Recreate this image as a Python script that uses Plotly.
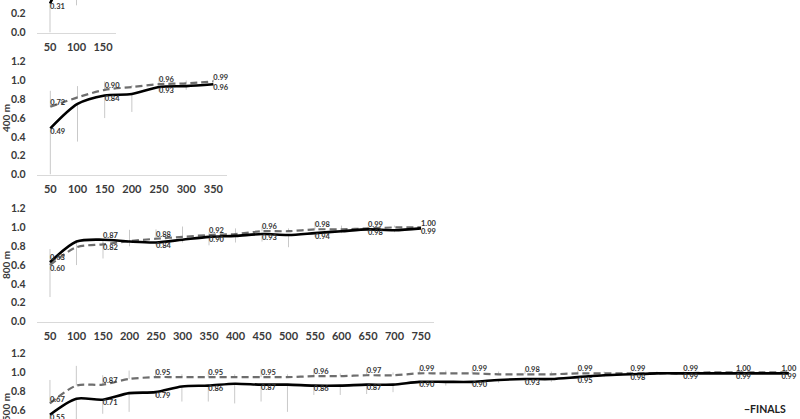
import plotly.graph_objects as go

# ---------------- data ----------------
dist_200 = [50, 100, 150]
finals_200 = [0.31, 0.78, 0.93]
heats_200 = [0.52, 0.86, 0.97]
finals_200_err = [0.31, 0.49, 0.10]
heats_200_err = [0.20, 0.10, 0.03]

dist_400 = [50, 100, 150, 200, 250, 300, 350]
finals_400 = [0.49, 0.75, 0.84, 0.855, 0.93, 0.94, 0.96]
heats_400 = [0.72, 0.82, 0.90, 0.93, 0.96, 0.97, 0.99]
finals_400_err = [0.49, 0.40, 0.24, 0.19, 0.05, 0.04, 0.02]
heats_400_err = [0.17, 0.12, 0.09, 0.02, 0.07, 0.03, 0.02]

dist_800 = [50, 100, 150, 200, 250, 300, 350, 400, 450, 500, 550, 600, 650, 700, 750]
finals_800 = [0.63, 0.85, 0.87, 0.85, 0.84, 0.87, 0.90, 0.91, 0.93, 0.92, 0.94, 0.96, 0.98, 0.97, 0.99]
heats_800 = [0.60, 0.79, 0.82, 0.855, 0.88, 0.90, 0.92, 0.93, 0.96, 0.96, 0.98, 0.98, 0.99, 1.00, 1.00]
finals_800_err = [0.37, 0.25, 0.20, 0.05, 0.03, 0.03, 0.09, 0.07, 0.08, 0.13, 0.04, 0.02, 0.03, 0.02, 0.01]
heats_800_err = [0.17, 0.05, 0.03, 0.12, 0.10, 0.11, 0.03, 0.06, 0.05, 0.03, 0.08, 0.04, 0.02, 0.02, 0.01]

dist_1500 = [50, 100, 150, 200, 250, 300, 350, 400, 450, 500, 550, 600, 650, 700, 750,
             800, 850, 900, 950, 1000, 1050, 1100, 1150, 1200, 1250, 1300, 1350, 1400, 1450]
finals_1500 = [0.55, 0.72, 0.71, 0.78, 0.79, 0.85, 0.86, 0.88, 0.87, 0.87, 0.86, 0.86, 0.87, 0.87, 0.90,
               0.90, 0.90, 0.92, 0.93, 0.93, 0.95, 0.97, 0.98, 0.99, 0.99, 0.99, 0.99, 0.99, 0.99]
heats_1500 = [0.67, 0.86, 0.87, 0.93, 0.95, 0.95, 0.95, 0.95, 0.95, 0.95, 0.96, 0.96, 0.97, 0.97, 0.99,
              0.99, 0.99, 0.98, 0.98, 0.98, 0.99, 0.99, 0.99, 0.99, 0.99, 1.00, 1.00, 1.00, 1.00]
finals_1500_err = [0.30, 0.25, 0.15, 0.20, 0.05, 0.16, 0.17, 0.21, 0.18, 0.29, 0.10, 0.10, 0.10, 0.08, 0.05,
                   0.04, 0.04, 0.03, 0.03, 0.03, 0.03, 0.02, 0.02, 0.01, 0.01, 0.01, 0.01, 0.01, 0.01]
heats_1500_err = [0.25, 0.21, 0.10, 0.09, 0.08, 0.03, 0.05, 0.03, 0.09, 0.03, 0.08, 0.03, 0.07, 0.03, 0.05,
                  0.03, 0.04, 0.03, 0.04, 0.03, 0.03, 0.02, 0.02, 0.02, 0.02, 0.01, 0.01, 0.01, 0.01]

y_ticks = [0.0, 0.2, 0.4, 0.6, 0.8, 1.0, 1.2]
titles = [None, "400 m", "800 m", "1500 m"]
legend_label = "FINALS"

# ---------------- layout geometry (pixels) ----------------
W, H = 800, 419
PPU = 94.2  # pixels per unit of y
FONT = "Lato"
TXT = "#3a3a3a"
LEFT = 36.75

# y0 = pixel row of value 0; ylo/yhi = visible value range
panels = [
    dict(d=dist_200, f=finals_200, h=heats_200, fe=finals_200_err, he=heats_200_err,
         step_px=26.5, y0=32.5, ylo=0.0, yhi=32.5 / PPU, baseline=True, xlabels=True),
    dict(d=dist_400, f=finals_400, h=heats_400, fe=finals_400_err, he=heats_400_err,
         step_px=27.17, y0=174.5, ylo=0.0, yhi=1.2, baseline=True, xlabels=True),
    dict(d=dist_800, f=finals_800, h=heats_800, fe=finals_800_err, he=heats_800_err,
         step_px=26.5, y0=321.5, ylo=0.0, yhi=1.2, baseline=True, xlabels=True),
    dict(d=dist_1500, f=finals_1500, h=heats_1500, fe=finals_1500_err, he=heats_1500_err,
         step_px=26.39, y0=466.5, ylo=(466.5 - 419) / PPU, yhi=1.2, baseline=False, xlabels=False),
]

fig = go.Figure()
layout = dict(
    width=W, height=H, margin=dict(l=0, r=0, t=0, b=0),
    paper_bgcolor="white", plot_bgcolor="white", showlegend=False,
    font=dict(family=FONT, color=TXT),
)
annotations = []


def label_texts(vals, ylo, yhi):
    # every second point is labelled; labels of points outside the visible window are dropped
    return [f"{v:.2f}" if (k % 2 == 0 and ylo <= v <= yhi) else "" for k, v in enumerate(vals)]


for i, p in enumerate(panels, start=1):
    xa = "x" if i == 1 else f"x{i}"
    ya = "y" if i == 1 else f"y{i}"
    d = p["d"]
    n = len(d)
    ppm = p["step_px"] / 50.0
    full_right = LEFT + n * p["step_px"]
    right_px = min(W, full_right)
    x_lo = d[0] - 25
    x_hi = x_lo + (right_px - LEFT) / ppm
    top_px = p["y0"] - p["yhi"] * PPU
    bot_px = p["y0"] - p["ylo"] * PPU
    dom_y = [max(0.0, (H - bot_px) / H), min(1.0, (H - top_px) / H)]

    # error bars (drawn first, beneath lines)
    fig.add_trace(go.Scatter(
        x=d, y=p["h"], xaxis=xa, yaxis=ya, mode="markers",
        marker=dict(size=1, opacity=0),
        error_y=dict(type="data", symmetric=False, array=p["he"], arrayminus=[0] * n,
                     color="#c9c9c9", thickness=1, width=0),
        hoverinfo="skip"))
    fig.add_trace(go.Scatter(
        x=d, y=p["f"], xaxis=xa, yaxis=ya, mode="markers",
        marker=dict(size=1, opacity=0),
        error_y=dict(type="data", symmetric=False, array=[0] * n, arrayminus=p["fe"],
                     color="#c9c9c9", thickness=1, width=0),
        hoverinfo="skip"))

    h_text = label_texts(p["h"], p["ylo"], p["yhi"])
    f_text = label_texts(p["f"], p["ylo"], p["yhi"])
    side = "right"
    h_pos = [("top " if hv >= fv else "bottom ") + side for hv, fv in zip(p["h"], p["f"])]
    f_pos = [("bottom " if hv >= fv else "top ") + side for hv, fv in zip(p["h"], p["f"])]
    if full_right > W:  # last label would run off the edge: centre it
        h_pos[-1] = h_pos[-1].split()[0] + " center"
        f_pos[-1] = f_pos[-1].split()[0] + " center"

    fig.add_trace(go.Scatter(
        x=d, y=p["h"], xaxis=xa, yaxis=ya, mode="lines+text",
        line=dict(color="#6e6e6e", width=2.2, dash="7px,4px", shape="spline", smoothing=0.8),
        text=h_text, textposition=h_pos,
        textfont=dict(size=7.5, color="#333333", family=FONT, weight="bold"),
        cliponaxis=False, name="HEATS"))
    fig.add_trace(go.Scatter(
        x=d, y=p["f"], xaxis=xa, yaxis=ya, mode="lines+text",
        line=dict(color="black", width=2.6, shape="spline", smoothing=0.8),
        text=f_text, textposition=f_pos,
        textfont=dict(size=7.5, color="#333333", family=FONT, weight="bold"),
        cliponaxis=False, name=legend_label))

    xkey = "xaxis" if i == 1 else f"xaxis{i}"
    ykey = "yaxis" if i == 1 else f"yaxis{i}"
    layout[xkey] = dict(
        domain=[LEFT / W, right_px / W], anchor=ya, range=[x_lo, x_hi],
        tickmode="array", tickvals=d, ticktext=[str(v) for v in d],
        showticklabels=p["xlabels"], ticks="outside", ticklen=4, tickcolor="rgba(0,0,0,0)",
        tickfont=dict(size=11, family=FONT, color=TXT, weight="bold"),
        showgrid=False, zeroline=False, automargin=False,
        showline=p["baseline"], linecolor="#d9d9d9", linewidth=1, mirror=False)
    layout[ykey] = dict(
        domain=dom_y, anchor=xa, range=[p["ylo"], p["yhi"] + 0.002],
        tickmode="array", tickvals=y_ticks, ticktext=[f"{v:.1f}" for v in y_ticks],
        ticks="outside", ticklen=8, tickcolor="rgba(0,0,0,0)",
        tickfont=dict(size=10.5, family=FONT, color=TXT, weight="bold"),
        showgrid=False, zeroline=False, showline=False, automargin=False)

    if titles[i - 1]:
        annotations.append(dict(
            xref="paper", yref="paper", x=6 / W, y=(H - (p["y0"] - 0.6 * PPU)) / H,
            text=f"<b>{titles[i - 1]}</b>", textangle=-90, showarrow=False,
            xanchor="center", yanchor="middle", font=dict(size=10, family=FONT, color=TXT)))

annotations.append(dict(
    xref="paper", yref="paper", x=788 / W, y=(H - 409) / H, text=f"<b>\u2212{legend_label}</b>",
    showarrow=False, xanchor="right", yanchor="middle", font=dict(size=10.5, family=FONT, color="#222")))
layout["annotations"] = annotations

fig.update_layout(**layout)
fig.write_html("out.html", config={"displayModeBar": False},
               post_script="document.body.style.margin='0';document.body.style.overflow='hidden';")
